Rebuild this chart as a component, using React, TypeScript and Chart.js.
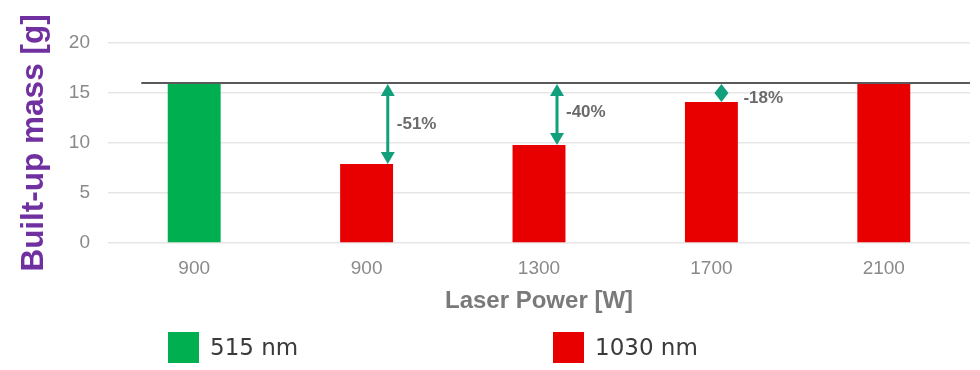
import React, { useEffect, useRef } from "react";
import { Chart, registerables } from "chart.js";

Chart.register(...registerables);

// ---- Data ----
const CATEGORIES = ["900", "900", "1300", "1700", "2100"];
const MASS_515NM: (number | null)[] = [16, null, null, null, null];
const MASS_1030NM: (number | null)[] = [null, 7.9, 9.8, 14.1, 16];
const REFERENCE_MASS = 16;
const REDUCTION_LABELS = ["", "-51%", "-40%", "-18%", ""];
const Y_TICKS = [0, 5, 10, 15, 20];
const SERIES_NAMES = ["515 nm", "1030 nm"];

const GREEN = "#00B050";
const RED = "#E80000";
const ARROW = "#12A07C";
const FONT = "'Liberation Sans', Arial, sans-serif";

// annotation styling (offsets in fractions of bar width / pixels)
const ARROW_STYLE = [
  null,
  { dxFrac: 0.4, labelDx: 9, labelDy: 0 },
  { dxFrac: 0.34, labelDx: 9, labelDy: -2 },
  { dxFrac: 0.19, labelDx: 22, labelDy: 5 },
  null,
];

const annotationPlugin = {
  id: "annotations",
  afterDatasetsDraw(chart: any) {
    const { ctx, chartArea, scales } = chart;
    const xs = scales.x;
    const ys = scales.y;
    const catW = xs.getPixelForValue(1) - xs.getPixelForValue(0);
    const barW = catW * 0.307;
    const yRef = ys.getPixelForValue(REFERENCE_MASS);
    ctx.save();
    // reference line
    ctx.strokeStyle = "#5a5a5a";
    ctx.lineWidth = 2;
    ctx.beginPath();
    ctx.moveTo(xs.getPixelForValue(0) - barW, yRef);
    ctx.lineTo(chartArea.right, yRef);
    ctx.stroke();

    // arrows
    MASS_1030NM.forEach((v, i) => {
      const st = ARROW_STYLE[i];
      if (v == null || !st || !REDUCTION_LABELS[i]) return;
      const x = xs.getPixelForValue(i) + st.dxFrac * barW;
      const y0 = yRef + 1;
      const y1 = ys.getPixelForValue(v);
      const len = y1 - y0;
      const head = Math.min(12, len / 2);
      const hw = 7;
      ctx.strokeStyle = ARROW;
      ctx.fillStyle = ARROW;
      ctx.lineWidth = 3;
      ctx.beginPath();
      ctx.moveTo(x, y0 + head);
      ctx.lineTo(x, y1 - head);
      ctx.stroke();
      ctx.beginPath();
      ctx.moveTo(x, y0);
      ctx.lineTo(x - hw, y0 + head);
      ctx.lineTo(x + hw, y0 + head);
      ctx.closePath();
      ctx.fill();
      ctx.beginPath();
      ctx.moveTo(x, y1);
      ctx.lineTo(x - hw, y1 - head);
      ctx.lineTo(x + hw, y1 - head);
      ctx.closePath();
      ctx.fill();
      // label
      ctx.fillStyle = "#6b6b6b";
      ctx.font = `bold 17px ${FONT}`;
      ctx.textAlign = "left";
      ctx.textBaseline = "middle";
      ctx.fillText(REDUCTION_LABELS[i], x + st.labelDx, (y0 + y1) / 2 + st.labelDy);
    });
    ctx.restore();
  },
  afterDraw(chart: any) {
    const { ctx } = chart;
    const items = [
      { x: 168, color: GREEN, text: SERIES_NAMES[0] },
      { x: 553, color: RED, text: SERIES_NAMES[1] },
    ];
    ctx.save();
    items.forEach((it) => {
      ctx.fillStyle = it.color;
      ctx.fillRect(it.x, 332, 31, 31);
      ctx.fillStyle = "#3a3a3a";
      ctx.font = `23px 'DejaVu Sans', sans-serif`;
      ctx.textAlign = "left";
      ctx.textBaseline = "middle";
      ctx.fillText(it.text, it.x + 42, 349);
    });
    ctx.restore();
  },
};

export default function App() {
  const ref = useRef<HTMLCanvasElement | null>(null);
  useEffect(() => {
    if (!ref.current) return;
    const chart = new Chart(ref.current, {
      type: "bar",
      data: {
        labels: CATEGORIES,
        datasets: [
          {
            label: SERIES_NAMES[0],
            data: MASS_515NM,
            backgroundColor: GREEN,
            grouped: false,
            barPercentage: 0.307,
            categoryPercentage: 1,
          },
          {
            label: SERIES_NAMES[1],
            data: MASS_1030NM,
            backgroundColor: RED,
            grouped: false,
            barPercentage: 0.307,
            categoryPercentage: 1,
          },
        ],
      } as any,
      options: {
        responsive: true,
        maintainAspectRatio: false,
        animation: false,
        layout: { padding: { left: 0, right: 10, top: 43, bottom: 54 } },
        plugins: {
          legend: { display: false },
          tooltip: { enabled: false },
        },
        scales: {
          x: {
            grid: { display: false, drawTicks: false },
            border: { display: false },
            ticks: {
              color: "#8a8a8a",
              font: { family: FONT, size: 19 },
              padding: 14,
            },
            title: {
              display: true,
              text: "Laser Power [W]",
              color: "#7a7a7a",
              font: { family: FONT, size: 24, weight: "bold" },
              padding: { top: 0, bottom: 0 },
            },
            afterFit: (s: any) => {
              s.height = 73;
            },
          },
          y: {
            min: 0,
            max: 20,
            afterBuildTicks: (s: any) => {
              s.ticks = Y_TICKS.map((v) => ({ value: v }));
            },
            grid: { color: "#e6e6e6", drawTicks: false, lineWidth: 1.5 },
            border: { display: false },
            ticks: {
              color: "#8a8a8a",
              font: { family: FONT, size: 19 },
              padding: 18,
            },
            title: {
              display: true,
              text: "Built-up mass [g]",
              color: "#7030A0",
              font: { family: FONT, size: 31.5, weight: "bold" },
              padding: { top: 15, bottom: 0 },
            },
            afterFit: (s: any) => {
              s.width = 108;
            },
          },
        },
      } as any,
      plugins: [annotationPlugin],
    });
    return () => chart.destroy();
  }, []);
  return (
    <div style={{ position: "fixed", left: 0, top: 0, width: 980, height: 370, background: "#fff" }}>
      <canvas ref={ref} />
    </div>
  );
}
